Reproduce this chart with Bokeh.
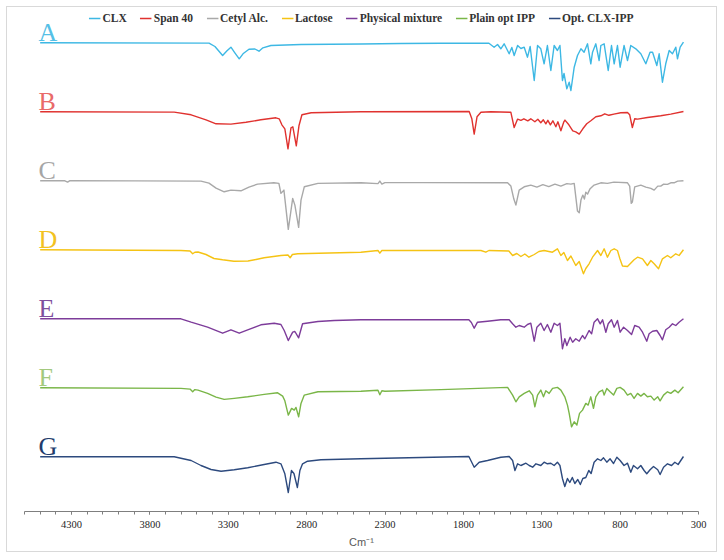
from bokeh.plotting import figure
from bokeh.models import Range1d, FixedTicker, ColumnDataSource, Legend, LegendItem
from bokeh.embed import file_html
from bokeh.resources import INLINE
from bokeh.core.properties import value

# ---------------- data ----------------
series_names = ["CLX", "Span 40", "Cetyl Alc.", "Lactose", "Physical mixture",
                "Plain opt IPP", "Opt. CLX-IPP"]
panel_letters = ["A", "B", "C", "D", "E", "F", "G"]
tick_values = [4300, 3800, 3300, 2800, 2300, 1800, 1300, 800, 300]
axis_title = "Cm\u207b\u00b9"

clx_wn = [4500, 3423, 3385, 3336, 3308, 3283, 3258, 3230, 3206, 3168,
          3130, 3104, 3079, 3028, 2836, 2454, 2199, 1944, 1637, 1604,
          1582, 1561, 1540, 1508, 1491, 1476, 1454, 1433, 1412, 1391,
          1374, 1348, 1327, 1306, 1285, 1264, 1242, 1221, 1200, 1184,
          1168, 1158, 1140, 1125, 1114, 1093, 1072, 1050, 1030, 1008,
          987, 976, 955, 934, 923, 902, 876, 855, 838, 817,
          800, 775, 753, 732, 700, 668, 636, 609, 593, 566,
          551, 530, 509, 487, 466, 445, 434, 417, 396]
clx_t = [100, 99.7, 96.3, 87.3, 92, 95.6, 90, 84, 89, 93.6,
         93.8, 91.6, 95, 97.3, 98.3, 98.8, 99.3, 99.6, 99.6, 95.6,
         98.3, 94, 99, 89, 95.3, 87.3, 97.3, 94.3, 95.6, 85.6,
         96.3, 62.3, 97.3, 94, 79, 97.3, 72.3, 97.3, 92.3, 97.3,
         62.3, 69.3, 54, 60.6, 52.3, 75.6, 87.3, 94, 90.6, 99,
         79, 90.6, 99, 82.3, 97.3, 99, 72.3, 97.3, 79, 97.3,
         75.6, 97.3, 82.3, 97.3, 94, 89, 79, 90.6, 90.6, 77.3,
         89, 60.6, 79, 92.3, 89, 95.6, 84, 95.6, 100.6]

span_wn = [4500, 3645, 3537, 3442, 3378, 3283, 3187, 3092, 2996, 2975,
           2958, 2939, 2919, 2900, 2888, 2866, 2849, 2830, 2771, 2454,
           1763, 1746, 1731, 1713, 1688, 1624, 1497, 1476, 1454, 1433,
           1414, 1389, 1370, 1344, 1325, 1306, 1290, 1274, 1261, 1245,
           1229, 1210, 1197, 1178, 1159, 1152, 1127, 1102, 1083, 1061,
           1038, 1013, 987, 955, 923, 898, 872, 840, 796, 753,
           739, 722, 707, 688, 626, 541, 477, 396]
span_t = [100, 99.7, 97, 92, 88, 87.7, 89.5, 92, 94, 93,
          87, 83, 63, 84, 85, 66, 86, 97, 99, 100,
          100.3, 93, 77.7, 95, 99.5, 100, 99.5, 84.3, 92.7, 91.5,
          93, 91, 93, 90, 92.5, 89, 92, 88, 91.5, 87,
          91, 85, 90, 81, 90, 91.7, 87, 81, 80, 77.7,
          83, 88, 91, 95, 96, 98, 96.5, 97.7, 99, 99.3,
          97, 84.3, 93, 92.7, 94.3, 96, 97.7, 100.3]

cetyl_wn = [4500, 4342, 4325, 4310, 3474, 3423, 3378, 3326, 3283, 3219,
            3168, 3113, 3009, 2977, 2964, 2945, 2917, 2889, 2875, 2851,
            2836, 2815, 2728, 2454, 2345, 2333, 2320, 2301, 2071, 1518,
            1497, 1478, 1465, 1444, 1412, 1370, 1331, 1293, 1255, 1216,
            1178, 1140, 1114, 1093, 1072, 1061, 1050, 1038, 1028, 1019,
            1008, 993, 966, 923, 881, 840, 753, 739, 729, 722,
            707, 668, 636, 604, 583, 560, 541, 522, 498, 477,
            456, 433, 396]
cetyl_t = [100, 100, 98.7, 100.2, 99.7, 97.7, 92.7, 89, 90.7, 90,
           93.7, 96.7, 98, 97.4, 87.4, 90.7, 51.4, 82.4, 75.7, 53.4,
           80.7, 94, 97.4, 98, 97.2, 99.7, 96.7, 98.2, 98.2, 98,
           94.7, 81.7, 75.7, 90.7, 94, 95.7, 93.7, 96.2, 94.2, 96.7,
           94.7, 97.2, 96.7, 97.4, 69.7, 68, 80.7, 85.7, 81.7, 88.7,
           86.7, 91.7, 95.7, 98, 97.4, 98.7, 98, 94.7, 77.4, 78.7,
           94, 95.7, 93.7, 92.4, 90.7, 94.7, 94.7, 96.7, 96.4, 98,
           98, 99.7, 100]

lactose_wn = [4500, 3602, 3544, 3527, 3513, 3493, 3442, 3391, 3336, 3264,
              3174, 3123, 3071, 2964, 2919, 2905, 2891, 2856, 2454, 2345,
              2333, 2320, 2071, 1688, 1657, 1637, 1510, 1486, 1459, 1433,
              1408, 1382, 1348, 1318, 1285, 1232, 1200, 1178, 1159, 1136,
              1114, 1083, 1061, 1034, 1019, 998, 976, 944, 923, 902,
              881, 859, 838, 817, 802, 785, 753, 711, 689, 657,
              626, 604, 583, 555, 530, 498, 477, 445, 424, 396]
lactose_t = [100, 99.3, 98.8, 96, 97.6, 97.8, 95.3, 91.3, 90, 88.6,
             88.8, 90.3, 92, 94.3, 94.8, 92, 95.3, 96, 97.6, 99.3,
             96.6, 99.3, 99.3, 99.3, 97.6, 99.3, 98.8, 94.3, 96.3, 93.3,
             95.8, 92.6, 95.3, 98.3, 99.3, 97.6, 101, 94.3, 97.3, 89.3,
             93.8, 84.3, 88.3, 76, 81.3, 86, 92.6, 99.3, 94.3, 101,
             92.6, 99.3, 101, 99.3, 91.3, 83.8, 83.3, 90, 92.6, 91,
             84.3, 89.3, 86, 81, 91, 94.3, 92, 96, 94.3, 100]

mixture_wn = [4500, 3602, 3537, 3432, 3336, 3283, 3230, 3176, 3092, 3007,
              2964, 2943, 2917, 2889, 2875, 2851, 2826, 2728, 2624, 2454,
              1765, 1749, 1731, 1710, 1646, 1561, 1508, 1486, 1465, 1444,
              1412, 1391, 1370, 1348, 1331, 1306, 1285, 1264, 1242, 1221,
              1200, 1184, 1168, 1153, 1140, 1119, 1103, 1083, 1061, 1040,
              1025, 998, 982, 966, 944, 927, 912, 891, 876, 855,
              838, 817, 800, 778, 753, 727, 707, 679, 657, 630,
              615, 593, 566, 545, 530, 509, 487, 466, 445, 424,
              396]
mixture_t = [100, 100, 96.6, 91.6, 85.6, 89, 85.6, 89, 94, 95.6,
             94.3, 88.3, 78.3, 86.6, 87.3, 81, 95, 97.3, 98.3, 99,
             99, 96.3, 90.6, 96.6, 97.6, 99, 99, 95, 91.6, 93.3,
             91.6, 94.3, 95.6, 77.6, 91.6, 95.6, 88.3, 94.3, 86.6, 95.6,
             93.3, 95.6, 70, 80, 73.3, 81.6, 76.6, 80, 77.6, 83.3,
             80, 88.3, 85, 96.6, 100, 95, 99, 86.6, 95, 99,
             91.6, 98.3, 86.6, 91.6, 88.3, 84.3, 93.3, 91.6, 86.6, 77.6,
             85, 87.6, 88.3, 83.3, 79, 89, 91.6, 95, 93.3, 96.6,
             100]

plain_wn = [4500, 3602, 3544, 3527, 3513, 3493, 3432, 3378, 3326, 3262,
            3176, 3071, 2985, 2953, 2939, 2917, 2896, 2879, 2868, 2851,
            2836, 2815, 2728, 2454, 2345, 2333, 2320, 2301, 1944, 1518,
            1486, 1465, 1444, 1412, 1380, 1358, 1344, 1327, 1306, 1289,
            1274, 1253, 1231, 1200, 1178, 1153, 1136, 1125, 1110, 1093,
            1076, 1059, 1040, 1019, 1004, 987, 970, 955, 934, 912,
            902, 885, 864, 842, 821, 800, 775, 753, 732, 711,
            689, 668, 647, 626, 604, 583, 560, 545, 523, 498,
            477, 451, 430, 396]
plain_t = [100, 99.4, 98.7, 96, 98.2, 97.7, 94.4, 90.7, 88.4, 89.4,
           91, 93.4, 95, 91.7, 87, 72.7, 79.4, 77.7, 80.4, 71,
           84.4, 92.7, 96, 96.5, 97.5, 93, 97, 96.5, 98.2, 100.4,
           92.7, 86, 91, 94.4, 97, 92.7, 81, 92.7, 97.7, 91,
           97, 94.4, 99.4, 100.4, 97.7, 91, 82.7, 74.4, 61, 66,
           62.7, 74.4, 77.7, 84.4, 82.7, 91, 79.4, 91, 96, 97.7,
           92.7, 99.4, 96, 92.7, 99.4, 100.4, 97.7, 92.7, 94.4, 89.4,
           94.4, 91.7, 94.4, 91, 91.7, 87.7, 91, 87, 92.7, 96,
           94.4, 97.7, 95, 101]

opt_wn = [4500, 3645, 3602, 3537, 3474, 3410, 3346, 3262, 3176, 3071,
          2996, 2964, 2939, 2917, 2897, 2881, 2859, 2843, 2826, 2794,
          2709, 2454, 1765, 1731, 1699, 1646, 1561, 1508, 1486, 1471,
          1454, 1433, 1401, 1380, 1358, 1337, 1306, 1285, 1264, 1242,
          1221, 1200, 1184, 1168, 1153, 1136, 1121, 1105, 1089, 1070,
          1054, 1038, 1019, 1000, 985, 966, 944, 923, 906, 885,
          864, 842, 821, 800, 775, 753, 732, 715, 689, 668,
          647, 630, 609, 587, 560, 545, 523, 498, 472, 451,
          430, 396]
opt_t = [100, 100, 98.6, 96.3, 91.3, 87.3, 85.6, 87, 89, 92.3,
         94.6, 93, 83, 64.3, 86.3, 83.3, 69.3, 86.3, 93, 95.6,
         97, 98, 100.3, 89.6, 94.6, 96.3, 99.6, 100.3, 96.3, 86.3,
         93, 91.3, 93.6, 91.3, 89.6, 93, 91.3, 94.6, 93, 93.6,
         91.3, 94.6, 91.3, 78.3, 70.3, 78.3, 74.3, 79.3, 73.3, 77.3,
         72.3, 78.3, 79.3, 86.3, 83.3, 94.6, 98, 96.3, 99, 94.6,
         98, 93.3, 99.6, 96.3, 91.3, 93.6, 84.6, 91.3, 88, 91.3,
         86.3, 83, 87, 90.3, 87, 82.3, 89.6, 93, 91.3, 94.6,
         92.3, 100.3]

all_wn = [clx_wn, span_wn, cetyl_wn, lactose_wn, mixture_wn, plain_wn, opt_wn]
all_t = [clx_t, span_t, cetyl_t, lactose_t, mixture_t, plain_t, opt_t]

# ---------------- style ----------------
line_colors = ["#3db8e4", "#e0322f", "#a9a9a9", "#f5c314", "#7d3c9a", "#7ab648", "#2d4a7e"]
letter_colors = ["#55c0e6", "#e96a6a", "#a6a6a6", "#f2c21f", "#7e4f9e", "#a3c97e", "#223c6c"]
first_base = -34.3
step = 69.0

for wn, t in zip(all_wn, all_t):
    assert len(wn) == len(t), (len(wn), len(t))

p = figure(width=711, height=546, x_range=Range1d(4600, 300), y_range=Range1d(-503, 0),
           output_backend="svg", toolbar_location=None, y_axis_location=None,
           min_border_left=17, min_border_right=20, min_border_top=1, min_border_bottom=42)
p.grid.visible = False
p.outline_line_color = None
p.background_fill_color = "white"
p.border_fill_color = "white"
p.styles = {"border": "1px solid #d9d9d9", "margin-left": "6px", "margin-top": "6px"}

items = []
for k, (name, wn, t) in enumerate(zip(series_names, all_wn, all_t)):
    base = first_base - step * k
    ys = [v - 100 + base for v in t]
    r = p.line(wn, ys, line_color=line_colors[k], line_width=1.4, line_join="round")
    items.append(LegendItem(label=name, renderers=[r]))

letter_src = ColumnDataSource(dict(
    x=[4510] * len(panel_letters),
    y=[first_base - step * k - 4.5 for k in range(len(panel_letters))],
    text=panel_letters,
    color=letter_colors,
))
p.text(x="x", y="y", text="text", text_color="color", source=letter_src,
       text_font=value("Liberation Serif"), text_font_size="26px",
       text_baseline="bottom", text_align="left")

legend = Legend(items=items, location="top_center", orientation="horizontal")
legend.label_text_font = "Liberation Serif"
legend.label_text_font_style = "bold"
legend.label_text_font_size = "11.5px"
legend.label_text_color = "#333333"
legend.glyph_width = 12
legend.glyph_height = 10
legend.label_height = 12
legend.label_standoff = 2
legend.spacing = 13
legend.padding = 0
legend.margin = 4
legend.border_line_color = None
legend.background_fill_alpha = 0
p.add_layout(legend)

ax = p.xaxis[0]
ax.ticker = FixedTicker(ticks=tick_values, minor_ticks=list(range(400, 4601, 100)))
ax.axis_line_color = "#7f7f7f"
ax.major_tick_line_color = "#7f7f7f"
ax.minor_tick_line_color = "#7f7f7f"
ax.major_tick_in = 0
ax.major_tick_out = 3
ax.minor_tick_in = 0
ax.minor_tick_out = 3
ax.major_label_text_font = "Liberation Serif"
ax.major_label_text_font_size = "10.5px"
ax.major_label_text_color = "#262626"
ax.major_label_standoff = 6
ax.axis_label = axis_title
ax.axis_label_text_font = "Liberation Sans"
ax.axis_label_text_font_style = "normal"
ax.axis_label_text_font_size = "11px"
ax.axis_label_text_color = "#595959"
ax.axis_label_standoff = 5

open("out.html", "w").write(file_html(p, INLINE))
